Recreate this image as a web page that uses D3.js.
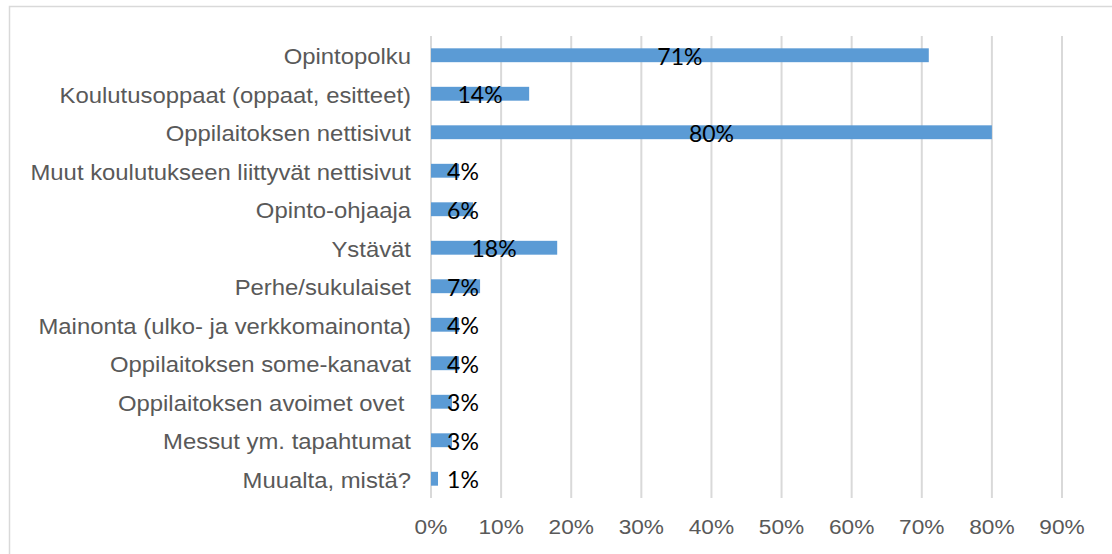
<!DOCTYPE html>
<head>
  <meta charset="utf-8">
  <script src="https://d3js.org/d3.v7.min.js"></script>
  <style>
    body { margin:0; background:white; }
    svg { display:block; }
    .cat { font-family: "Liberation Sans", Arial, sans-serif; font-size: 22px; fill: #595959; }
    .tick { font-family: "Liberation Sans", Arial, sans-serif; font-size: 21px; fill: #595959; }
    .val { font-family: Lato, "Liberation Sans", sans-serif; font-size: 23px; fill: #000; }
  </style>
</head>
<body>
  <script>
    // survey answers, percent
    var categories = [
      "Opintopolku",
      "Koulutusoppaat (oppaat, esitteet)",
      "Oppilaitoksen nettisivut",
      "Muut koulutukseen liittyvät nettisivut",
      "Opinto-ohjaaja",
      "Ystävät",
      "Perhe/sukulaiset",
      "Mainonta (ulko- ja verkkomainonta)",
      "Oppilaitoksen some-kanavat",
      "Oppilaitoksen avoimet ovet ",
      "Messut ym. tapahtumat",
      "Muualta, mistä?"
    ];
    var values = [71, 14, 80, 4, 6, 18, 7, 4, 4, 3, 3, 1];
    var ticks = [0, 10, 20, 30, 40, 50, 60, 70, 80, 90];

    var width = 1112, height = 554;

    var svg = d3.select("body").append("svg")
        .attr("width", width).attr("height", height);

    // outer frame, runs off the right and bottom
    svg.append("rect")
        .attr("x", 9.5).attr("y", 6.5)
        .attr("width", 1200).attr("height", 700)
        .attr("fill", "none").attr("stroke", "#d9d9d9").attr("stroke-width", 1.5);

    var x = d3.scaleLinear().domain([0, 90]).range([431, 1062]);
    var y = d3.scaleBand().domain(categories).range([36, 498]).paddingInner(0.64).paddingOuter(0.32);

    svg.selectAll("line.grid")
        .data(ticks)
        .enter().append("line")
          .attr("class", "grid")
          .attr("x1", function(d) { return x(d); })
          .attr("x2", function(d) { return x(d); })
          .attr("y1", 36).attr("y2", 498)
          .attr("stroke", "#d9d9d9").attr("stroke-width", 2);

    svg.selectAll("rect.bar")
        .data(values)
        .enter().append("rect")
          .attr("class", "bar")
          .attr("x", x(0))
          .attr("y", function(d, i) { return y(categories[i]); })
          .attr("width", function(d) { return x(d) - x(0); })
          .attr("height", y.bandwidth())
          .attr("fill", "#5b9bd5");

    // the source picture is a little wider than tall, so stretch text sideways
    function stretched(sel, k) {
      sel.attr("transform", function() {
        var cx = +d3.select(this).attr("x");
        return "translate(" + cx + ",0) scale(" + k + ",1) translate(" + (-cx) + ",0)";
      });
    }

    var mid = y.bandwidth() / 2;

    svg.selectAll("text.cat")
        .data(categories)
        .enter().append("text")
          .attr("class", "cat")
          .attr("x", 411)
          .attr("y", function(d) { return y(d) + mid; })
          .attr("dy", "0.4em")
          .attr("text-anchor", "end")
          .style("white-space", "pre")
          .text(function(d) { return d; })
          .call(stretched, 1.085);

    svg.selectAll("text.val")
        .data(values)
        .enter().append("text")
          .attr("class", "val")
          .attr("x", function(d) { return Math.max((x(0) + x(d)) / 2, x(0) + 32); })
          .attr("y", function(d, i) { return y(categories[i]) + mid + 1; })
          .attr("dy", "0.36em")
          .attr("text-anchor", "middle")
          .text(function(d) { return d + "%"; });

    svg.selectAll("text.tick")
        .data(ticks)
        .enter().append("text")
          .attr("class", "tick")
          .attr("x", function(d) { return x(d); })
          .attr("y", 534)
          .attr("text-anchor", "middle")
          .text(function(d) { return d + "%"; })
          .call(stretched, 1.08);
  </script>
</body>
